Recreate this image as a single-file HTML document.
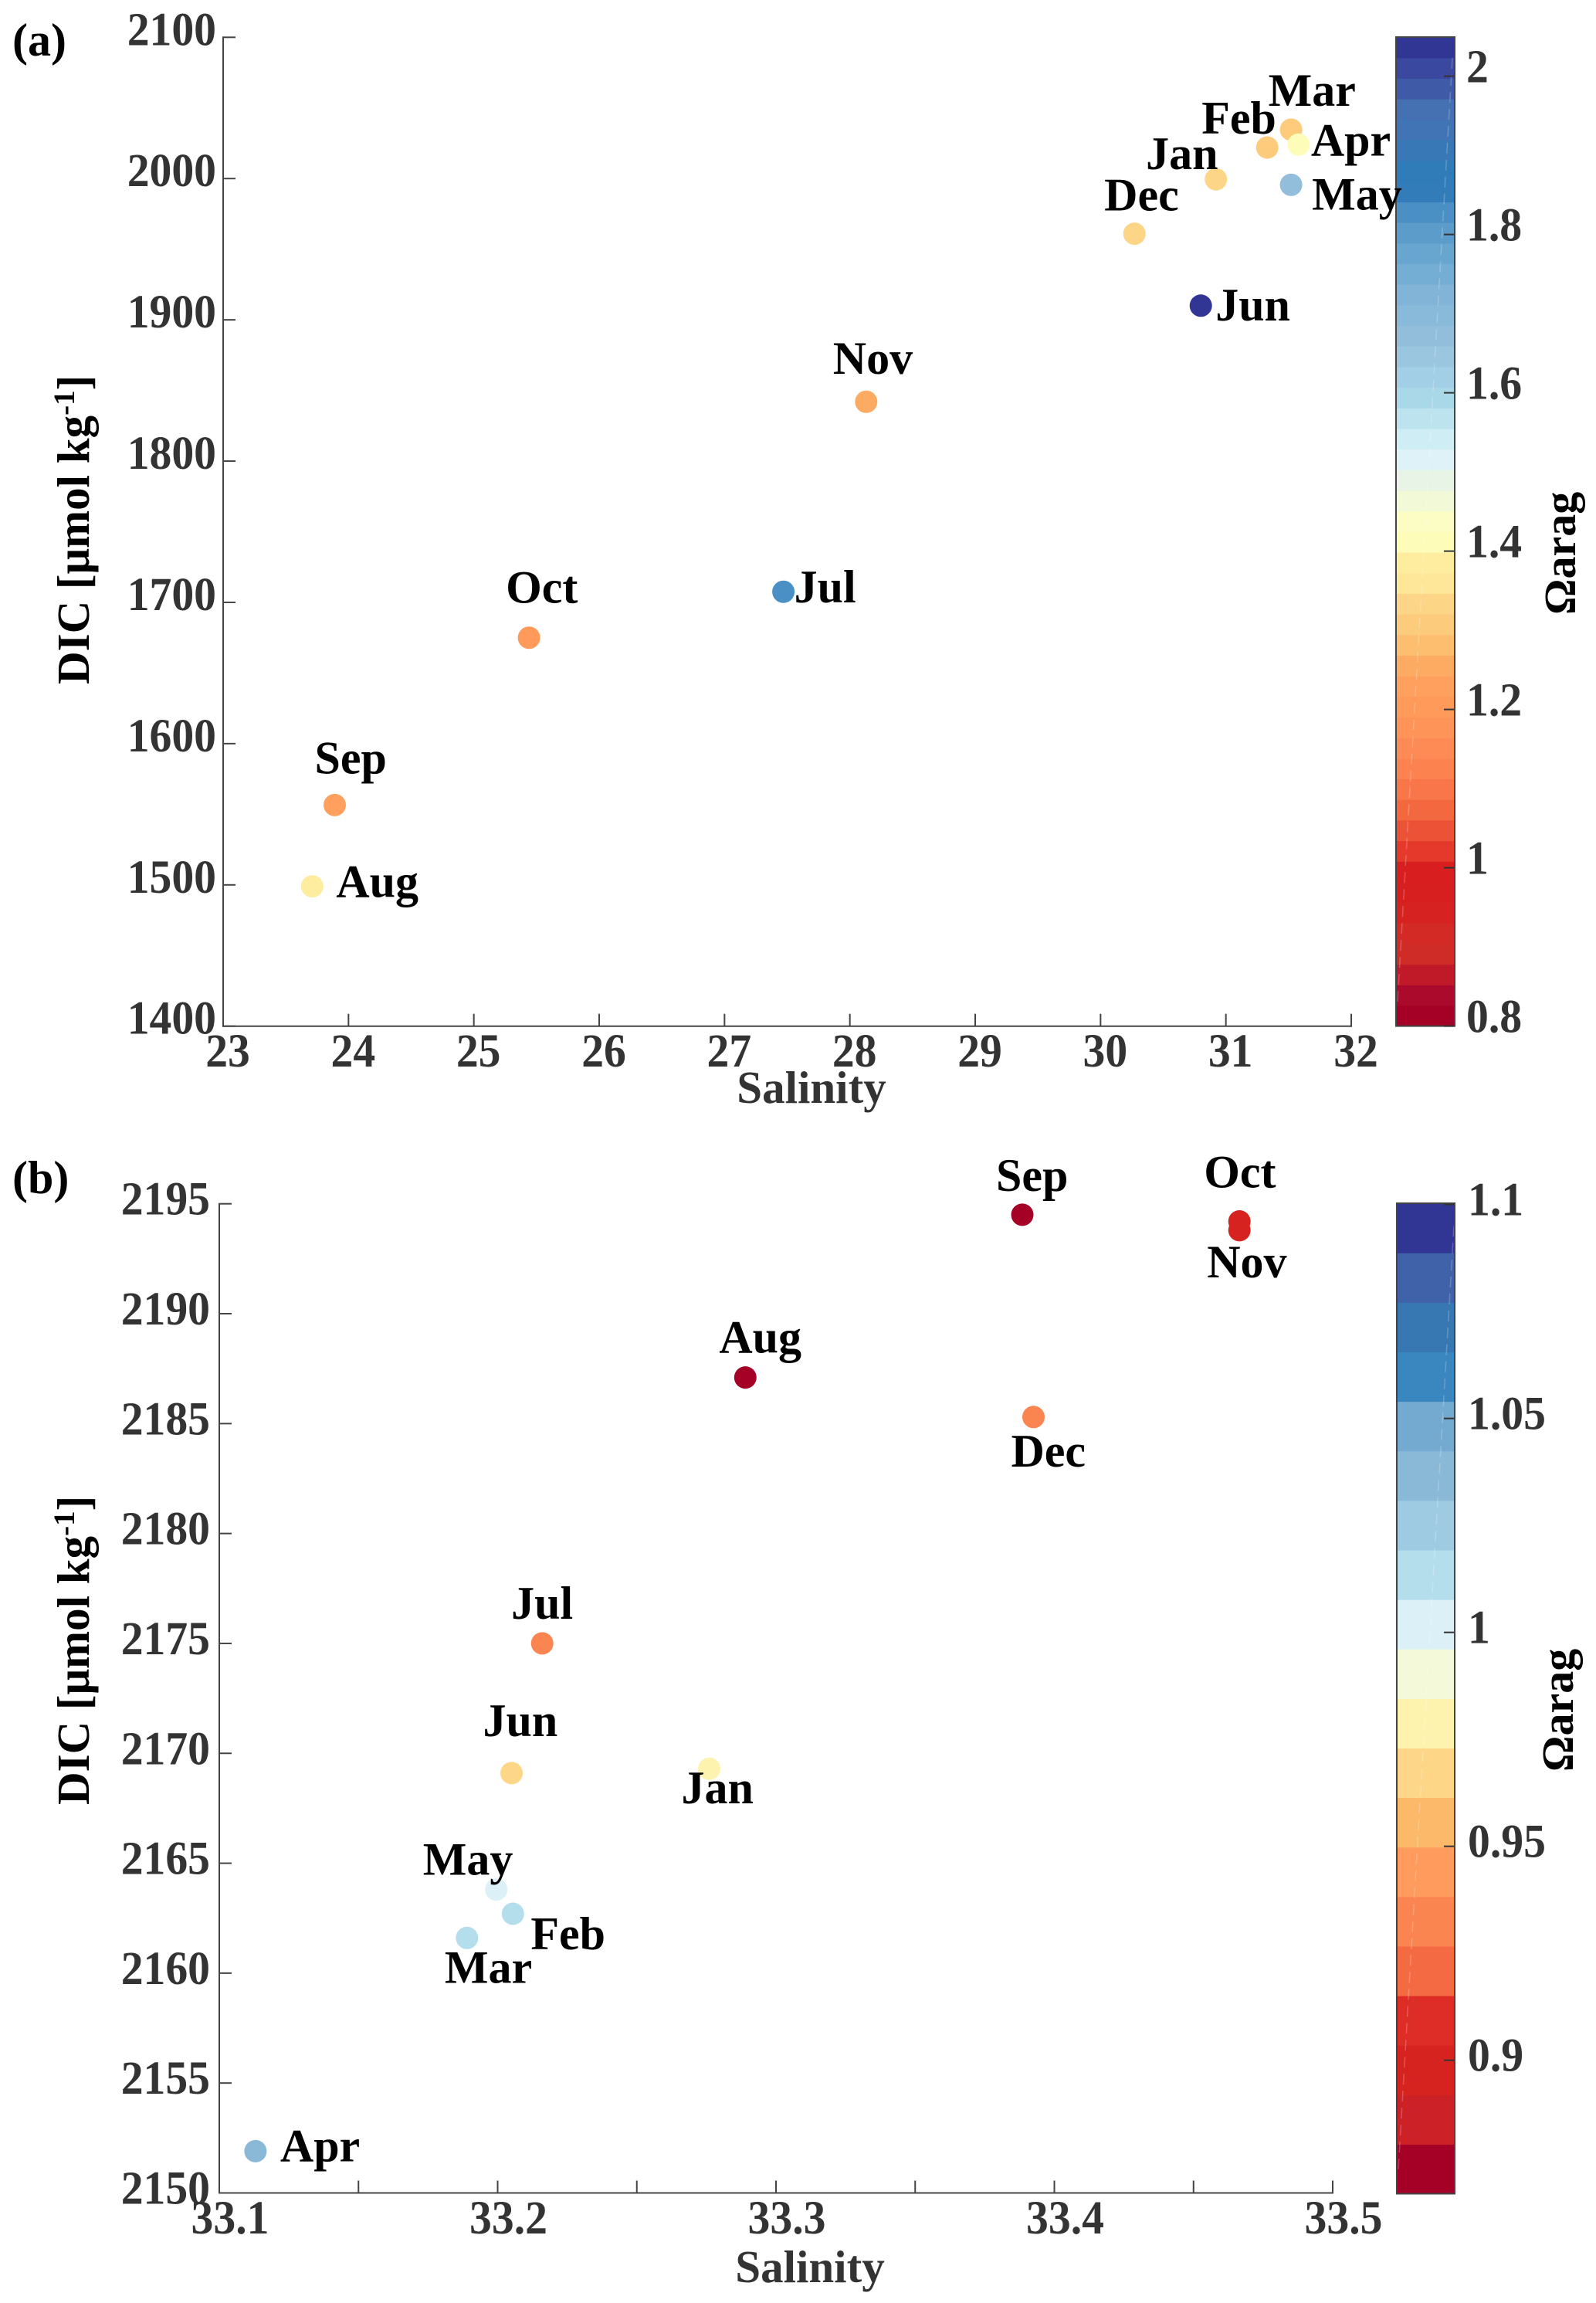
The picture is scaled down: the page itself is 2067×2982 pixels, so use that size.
<!DOCTYPE html>
<html lang="en">
<head>
<meta charset="utf-8">
<title>DIC versus salinity, coloured by aragonite saturation</title>
<style>
  html, body { margin: 0; padding: 0; background: #fff; }
  svg { display: block; }
  text { font-family: "Liberation Serif", serif; font-weight: 700; }
  .axis-title-grey { fill: #333; font-size: 59px; }
  .axis-title-black { fill: #000; font-size: 59px; }
  .colorbar-title { fill: #000; font-size: 58px; }
  .panel-tag { fill: #000; font-size: 60px; }
</style>
</head>
<body>
<svg id="figure" xmlns="http://www.w3.org/2000/svg" width="2067" height="2982" viewBox="0 0 2067 2982">
  <rect x="0" y="0" width="2067" height="2982" fill="#fff"/>

  <text class="panel-tag" x="16" y="72">(a)</text>
  <text class="panel-tag" x="16" y="1545">(b)</text>

  <g id="panel-a"></g>
  <g id="panel-b"></g>

  <text class="axis-title-grey" x="1051" y="1428" text-anchor="middle">Salinity</text>
  <text class="axis-title-grey" x="1049" y="2955" text-anchor="middle">Salinity</text>

  <text class="axis-title-black" transform="translate(115 886) rotate(-90)">DIC [μmol kg<tspan dy="-19" font-size="39">-1</tspan><tspan dy="19">]</tspan></text>
  <text class="axis-title-black" transform="translate(115 2337) rotate(-90)">DIC [μmol kg<tspan dy="-19" font-size="39">-1</tspan><tspan dy="19">]</tspan></text>

  <text class="colorbar-title" transform="translate(2040 796) rotate(-90)">Ωarag</text>
  <text class="colorbar-title" transform="translate(2037 2294) rotate(-90)">Ωarag</text>
</svg>

<script>
// ---------- Panel (a) data ----------
const monthsA = ['Jan','Feb','Mar','Apr','May','Jun','Jul','Aug','Sep','Oct','Nov','Dec'];
const salinityA = [30.92, 31.33, 31.52, 31.58, 31.52, 30.80, 27.47, 23.71, 23.89, 25.44, 28.13, 30.27];
const dicA = [1999.5, 2022, 2034.6, 2024, 1995.6, 1910, 1707.5, 1499, 1556.5, 1675, 1842, 1961];
const omegaA = [1.334, 1.308, 1.308, 1.412, 1.673, 2.04, 1.829, 1.386, 1.23, 1.204, 1.256, 1.334];
const xTicksA = [23, 24, 25, 26, 27, 28, 29, 30, 31, 32];
const xTickLabelsA = ['23','24','25','26','27','28','29','30','31','32'];
const yTicksA = [1400, 1500, 1600, 1700, 1800, 1900, 2000, 2100];
const yTickLabelsA = ['1400','1500','1600','1700','1800','1900','2000','2100'];
const cbarTicksA = [0.8, 1, 1.2, 1.4, 1.6, 1.8, 2];
const cbarTickLabelsA = ['0.8','1','1.2','1.4','1.6','1.8','2'];
const paletteA = [
  '#a50026','#ab0a2c','#c01a28','#cf2c28','#d42a26','#d62322','#d71f1f','#d81e1e',
  '#e53a2b','#ec5236','#f4683f','#f9764a','#fc8250','#fe8b55','#ff9459','#ff9a5b',
  '#ffa05f','#fdaa63','#fdbf6f','#fdcb7c','#fdd587','#fee798','#feec9f','#fefcb9',
  '#fbfdc5','#f1f9d6','#e7f4e6','#def2f7','#cfedf5','#bde3ef','#a9d8e8','#a2cfe5',
  '#9ac6e0','#92bedb','#8abada','#82b4d7','#75aed4','#68a6d0','#5c9ccb','#4a90c4',
  '#327db9','#2f7cb8','#3878b6','#4174b5','#4570b2','#3f5aa6','#3a48a0','#313695'
];

// ---------- Panel (b) data ----------
const monthsB = ['Jan','Feb','Mar','Apr','May','Jun','Jul','Aug','Sep','Oct','Nov','Dec'];
const salinityB = [33.276, 33.2055, 33.189, 33.113, 33.1995, 33.205, 33.216, 33.289, 33.3885, 33.4665, 33.4665, 33.3925];
const dicB = [2169.3, 2162.7, 2161.6, 2151.9, 2163.8, 2169.1, 2175, 2187.1, 2194.5, 2194.2, 2193.8, 2185.3];
const omegaB = [0.979, 1.013, 1.013, 1.036, 1.002, 0.967, 0.933, 0.874, 0.874, 0.9, 0.9, 0.933];
const xTicksB = [33.1, 33.15, 33.2, 33.25, 33.3, 33.35, 33.4, 33.45, 33.5];
const xTickLabelsB = ['33.1','','33.2','','33.3','','33.4','','33.5'];
const yTicksB = [2150, 2155, 2160, 2165, 2170, 2175, 2180, 2185, 2190, 2195];
const yTickLabelsB = ['2150','2155','2160','2165','2170','2175','2180','2185','2190','2195'];
const cbarTicksB = [0.9, 0.95, 1, 1.05, 1.1];
const cbarTickLabelsB = ['0.9','0.95','1','1.05','1.1'];
const paletteB = [
  '#a50026','#cb2127','#d7231f','#de2d26','#f46b43','#fb8550','#ff9b5c','#fdb96a',
  '#fed687','#fef3ae','#f3f9d9','#dcf1f7','#b4deec','#9fcbe2','#8ab8d7','#74aad0',
  '#3a87bf','#3878b2','#3f62a9','#313695'
];

// Label placement relative to each mark (annotation layout, not data)
const labelShiftA = {
  Jan:[-90.5,-13], Feb:[-85,-18], Mar:[-29.5,-31], Apr:[16,14], May:[27,32], Jun:[19,19],
  Jul:[14,14], Aug:[31,14], Sep:[-26,-41], Oct:[-30,-45], Nov:[-43,-36], Dec:[-39,-30]
};
const labelShiftB = {
  Jan:[-36,45], Feb:[23,46], Mar:[-29,58], Apr:[32,13], May:[-95,-19], Jun:[-37,-48],
  Jul:[-40,-32], Aug:[-34,-32], Sep:[-34,-31], Oct:[-46,-44], Nov:[-42,61], Dec:[-29,64]
};

const layoutA = {
  prefix: 'panel-a', left: 289, right: 1750, top: 48.3, bottom: 1328.7,
  xMin: 23, xMax: 32, yMin: 1400, yMax: 2100,
  yLabelX: 280, yLabelDy: 10, xLabelDx: 6, xLabelY: 1381,
  cbLeft: 1808, cbRight: 1884, cbTop: 48, cbBottom: 1328.6, cbMin: 0.8, cbMax: 2.0494,
  cbLabelX: 1899, cbLabelDy: 8,
  sheen: [1810, 1297, 1881, 75]
};
const layoutB = {
  prefix: 'panel-b', left: 284, right: 1726, top: 1558.7, bottom: 2839.5,
  xMin: 33.1, xMax: 33.5, yMin: 2150, yMax: 2195,
  yLabelX: 272, yLabelDy: 14, xLabelDx: 14, xLabelY: 2892,
  cbLeft: 1809, cbRight: 1884, cbTop: 1558, cbBottom: 2840.5, cbMin: 0.8688, cbMax: 1.1003,
  cbLabelX: 1901, cbLabelDy: 14,
  sheen: [1811, 2809, 1883, 1587]
};

const SVGNS = 'http://www.w3.org/2000/svg';
const AXIS_COLOR = '#444';
const TICK_TEXT = '#333';

function makeLine(x1, y1, x2, y2, color, width) {
  const el = document.createElementNS(SVGNS, 'line');
  el.setAttribute('x1', x1);
  el.setAttribute('y1', y1);
  el.setAttribute('x2', x2);
  el.setAttribute('y2', y2);
  el.setAttribute('stroke', color);
  el.setAttribute('stroke-width', width);
  return el;
}

function makeText(str, x, y, size, color, anchor) {
  const el = document.createElementNS(SVGNS, 'text');
  el.textContent = str;
  el.setAttribute('x', x);
  el.setAttribute('y', y);
  el.setAttribute('font-size', size);
  el.setAttribute('fill', color);
  el.setAttribute('text-anchor', anchor);
  return el;
}

// tick numerals in the reference are slightly condensed
function squeeze(el) {
  const w = el.getComputedTextLength();
  el.setAttribute('textLength', (w * 0.945).toFixed(1));
  el.setAttribute('lengthAdjust', 'spacingAndGlyphs');
}

function drawPanel(root, L, months, sal, dic, omega, xTicks, xLabels, yTicks, yLabels, cbTicks, cbLabels, palette, shift) {
  const xScale = v => L.left + (v - L.xMin) * (L.right - L.left) / (L.xMax - L.xMin);
  const yScale = v => L.bottom - (v - L.yMin) * (L.bottom - L.top) / (L.yMax - L.yMin);
  const cScale = v => L.cbBottom - (v - L.cbMin) * (L.cbBottom - L.cbTop) / (L.cbMax - L.cbMin);
  const bandOf = v => {
    const i = Math.floor((v - L.cbMin) / (L.cbMax - L.cbMin) * palette.length);
    return Math.max(0, Math.min(palette.length - 1, i));
  };

  // axes
  const yAxis = makeLine(L.left, L.top - 1, L.left, L.bottom + 1, AXIS_COLOR, 2);
  
  
  root.appendChild(yAxis);

  const xAxis = makeLine(L.left - 1, L.bottom, L.right + 1, L.bottom, AXIS_COLOR, 2);
  
  
  root.appendChild(xAxis);

  yTicks.forEach((v, i) => {
    const y = yScale(v);
    const tick = makeLine(L.left, y, L.left + 16, y, AXIS_COLOR, 2);
    
    
    root.appendChild(tick);
    const label = makeText(yLabels[i], L.yLabelX, y + L.yLabelDy, 61, TICK_TEXT, 'end');
    
    
    root.appendChild(label);
    squeeze(label);
  });

  xTicks.forEach((v, i) => {
    const x = xScale(v);
    const tick = makeLine(x, L.bottom, x, L.bottom - 16, AXIS_COLOR, 2);
    
    
    root.appendChild(tick);
    if (xLabels[i]) {
      const label = makeText(xLabels[i], x + L.xLabelDx, L.xLabelY, 61, TICK_TEXT, 'middle');
      
      
      root.appendChild(label);
      squeeze(label);
    }
  });

  // colourbar
  const bandH = (L.cbBottom - L.cbTop) / palette.length;
  palette.forEach((color, i) => {
    const band = document.createElementNS(SVGNS, 'rect');
    
    
    band.setAttribute('x', L.cbLeft);
    band.setAttribute('y', (L.cbBottom - bandH * (i + 1)).toFixed(2));
    band.setAttribute('width', L.cbRight - L.cbLeft);
    band.setAttribute('height', (bandH + 0.6).toFixed(2));
    band.setAttribute('fill', color);
    root.appendChild(band);
  });

  const sheen = makeLine(L.sheen[0], L.sheen[1], L.sheen[2], L.sheen[3], '#fff', 1.5);
  
  
  sheen.setAttribute('stroke-opacity', '0.22');
  sheen.setAttribute('stroke-dasharray', '14 8');
  root.appendChild(sheen);

  const frame = document.createElementNS(SVGNS, 'rect');
  
  
  frame.setAttribute('x', L.cbLeft);
  frame.setAttribute('y', L.cbTop);
  frame.setAttribute('width', L.cbRight - L.cbLeft);
  frame.setAttribute('height', L.cbBottom - L.cbTop);
  frame.setAttribute('fill', 'none');
  frame.setAttribute('stroke', AXIS_COLOR);
  frame.setAttribute('stroke-width', 2);
  root.appendChild(frame);

  cbTicks.forEach((v, i) => {
    const y = cScale(v);
    const tick = makeLine(L.cbRight - 14, y, L.cbRight - 1, y, '#333', 2);
    
    
    root.appendChild(tick);
    const label = makeText(cbLabels[i], L.cbLabelX, y + L.cbLabelDy, 61, TICK_TEXT, 'start');
    
    
    root.appendChild(label);
    squeeze(label);
  });

  // points
  months.forEach((m, i) => {
    const cx = xScale(sal[i]);
    const cy = yScale(dic[i]);
    const dot = document.createElementNS(SVGNS, 'circle');
    
    
    dot.setAttribute('cx', cx.toFixed(1));
    dot.setAttribute('cy', cy.toFixed(1));
    dot.setAttribute('r', 14.5);
    dot.setAttribute('fill', palette[bandOf(omega[i])]);
    root.appendChild(dot);
  });

  // month labels
  months.forEach((m, i) => {
    const s = shift[m];
    const label = makeText(m, xScale(sal[i]) + s[0], yScale(dic[i]) + s[1], 60, '#000', 'start');
    
    
    root.appendChild(label);
  });
}

drawPanel(document.getElementById('panel-a'), layoutA, monthsA, salinityA, dicA, omegaA,
  xTicksA, xTickLabelsA, yTicksA, yTickLabelsA, cbarTicksA, cbarTickLabelsA, paletteA, labelShiftA);
drawPanel(document.getElementById('panel-b'), layoutB, monthsB, salinityB, dicB, omegaB,
  xTicksB, xTickLabelsB, yTicksB, yTickLabelsB, cbarTicksB, cbarTickLabelsB, paletteB, labelShiftB);
</script>
</body>
</html>
